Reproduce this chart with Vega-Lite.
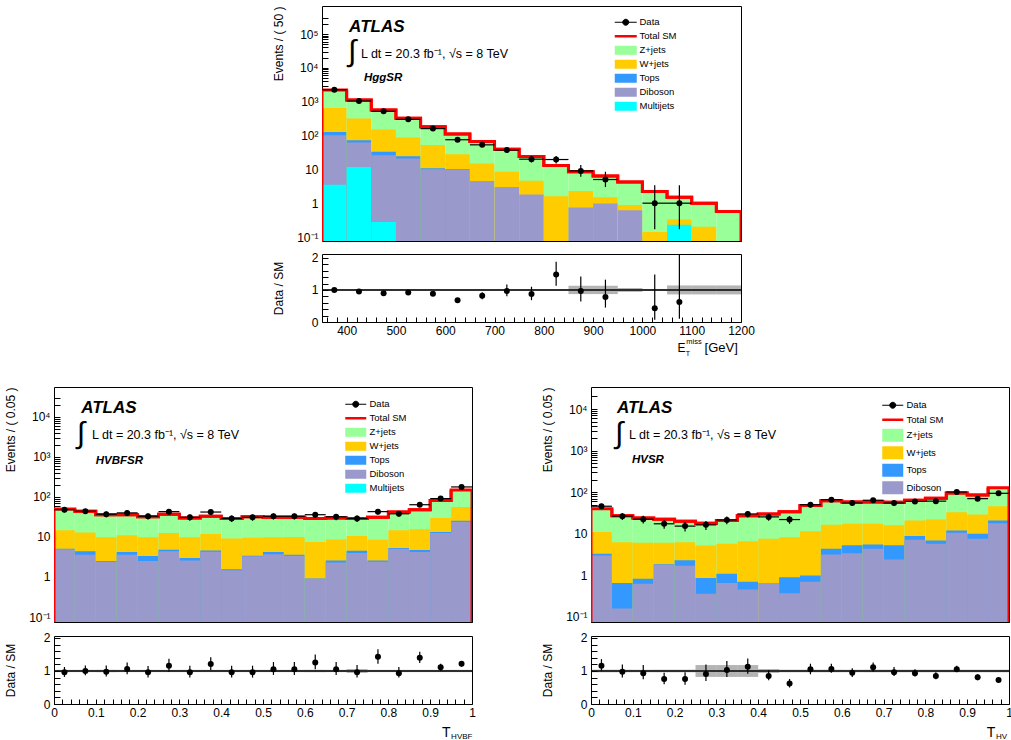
{
"$schema": "https://vega.github.io/schema/vega-lite/v6.json",
"background": "white",
"padding": {"left": 3, "top": 5, "right": 0, "bottom": 0},
"config": {
  "font": "Liberation Sans",
  "view": {"stroke": "black", "strokeWidth": 1},
  "axis": {"domain": false, "grid": false, "ticks": true, "tickColor": "black", "tickOpacity": 1, "tickWidth": 1, "labelColor": "black", "titleColor": "black", "labelFont": "Liberation Sans", "titleFont": "Liberation Sans", "labelFontSize": 12, "titleFontSize": 12, "titleFontWeight": "normal", "tickSize": 6, "labelPadding": 4, "zindex": 1, "labelOverlap": false, "labelFlush": false},
  "axisY": {"minExtent": 39, "maxExtent": 39, "titlePadding": 4},
  "legend": {"padding": 0, "labelFont": "Liberation Sans", "labelColor": "black", "labelFontSize": 9.5, "title": null}
},
"datasets": {
  "top": [
    {"lo":350,"hi":400,"c":375,"Z+jets":2200,"W+jets":650,"Tops":128,"Diboson":102,"Multijets":3.5,"tot":2200,"data":2250,"dlo":2203,"dhi":2297,"r":1.0,"rlo":0.98,"rhi":1.02,"ulo":0.975,"uhi":1.025},
    {"lo":400,"hi":450,"c":425,"Z+jets":1130,"W+jets":316,"Tops":72,"Diboson":62,"Multijets":11.8,"tot":1130,"data":1050,"dlo":1018,"dhi":1082,"r":0.95,"rlo":0.92,"rhi":0.98,"ulo":0.975,"uhi":1.025},
    {"lo":450,"hi":500,"c":475,"Z+jets":570,"W+jets":150,"Tops":33,"Diboson":26,"Multijets":0.28,"tot":570,"data":520,"dlo":497,"dhi":543,"r":0.9,"rlo":0.86,"rhi":0.94,"ulo":0.975,"uhi":1.025},
    {"lo":500,"hi":550,"c":525,"Z+jets":325,"W+jets":87,"Tops":24.5,"Diboson":21,"Multijets":null,"tot":325,"data":300,"dlo":283,"dhi":317,"r":0.92,"rlo":0.87,"rhi":0.97,"ulo":0.975,"uhi":1.025},
    {"lo":550,"hi":600,"c":575,"Z+jets":180,"W+jets":52,"Tops":10.7,"Diboson":10,"Multijets":null,"tot":180,"data":160,"dlo":147,"dhi":173,"r":0.88,"rlo":0.81,"rhi":0.95,"ulo":0.975,"uhi":1.025},
    {"lo":600,"hi":650,"c":625,"Z+jets":110,"W+jets":28,"Tops":10,"Diboson":9.7,"Multijets":null,"tot":110,"data":75,"dlo":66,"dhi":84,"r":0.68,"rlo":0.62,"rhi":0.75,"ulo":0.975,"uhi":1.025},
    {"lo":650,"hi":700,"c":675,"Z+jets":66,"W+jets":15,"Tops":null,"Diboson":4.5,"Multijets":null,"tot":66,"data":53,"dlo":46,"dhi":60,"r":0.82,"rlo":0.71,"rhi":0.93,"ulo":0.975,"uhi":1.025},
    {"lo":700,"hi":750,"c":725,"Z+jets":39,"W+jets":8.5,"Tops":null,"Diboson":3.0,"Multijets":null,"tot":39,"data":37,"dlo":31,"dhi":43,"r":0.97,"rlo":0.8,"rhi":1.17,"ulo":0.975,"uhi":1.025},
    {"lo":750,"hi":800,"c":775,"Z+jets":24,"W+jets":4.6,"Tops":null,"Diboson":1.8,"Multijets":null,"tot":24,"data":20,"dlo":16,"dhi":25,"r":0.87,"rlo":0.68,"rhi":1.1,"ulo":0.975,"uhi":1.025},
    {"lo":800,"hi":850,"c":825,"Z+jets":13,"W+jets":1.6,"Tops":null,"Diboson":null,"Multijets":null,"tot":13,"data":19.5,"dlo":15,"dhi":25,"r":1.48,"rlo":1.13,"rhi":1.88,"ulo":0.975,"uhi":1.025},
    {"lo":850,"hi":900,"c":875,"Z+jets":8.5,"W+jets":2.3,"Tops":null,"Diboson":0.74,"Multijets":null,"tot":8.5,"data":9,"dlo":6,"dhi":13.5,"r":0.97,"rlo":0.64,"rhi":1.42,"ulo":0.87,"uhi":1.13},
    {"lo":900,"hi":950,"c":925,"Z+jets":6.4,"W+jets":1.5,"Tops":null,"Diboson":0.98,"Multijets":null,"tot":6.4,"data":5,"dlo":3,"dhi":8.5,"r":0.78,"rlo":0.45,"rhi":1.32,"ulo":0.87,"uhi":1.13},
    {"lo":950,"hi":1000,"c":975,"Z+jets":4.2,"W+jets":0.89,"Tops":null,"Diboson":0.62,"Multijets":null,"tot":4.2,"data":null,"dlo":null,"dhi":null,"r":null,"rlo":null,"rhi":null,"ulo":0.94,"uhi":1.06},
    {"lo":1000,"hi":1050,"c":1025,"Z+jets":2.2,"W+jets":0.14,"Tops":null,"Diboson":null,"Multijets":null,"tot":2.2,"data":1,"dlo":0.17,"dhi":3.4,"r":0.43,"rlo":0.07,"rhi":1.48,"ulo":0.97,"uhi":1.03},
    {"lo":1050,"hi":1100,"c":1075,"Z+jets":1.5,"W+jets":0.33,"Tops":null,"Diboson":null,"Multijets":0.23,"tot":1.5,"data":1,"dlo":0.17,"dhi":3.4,"r":0.62,"rlo":0.1,"rhi":2.3,"ulo":0.86,"uhi":1.14},
    {"lo":1100,"hi":1150,"c":1125,"Z+jets":1.0,"W+jets":0.2,"Tops":null,"Diboson":null,"Multijets":null,"tot":1.0,"data":null,"dlo":null,"dhi":null,"r":null,"rlo":null,"rhi":null,"ulo":0.86,"uhi":1.14},
    {"lo":1150,"hi":1200,"c":1175,"Z+jets":0.57,"W+jets":null,"Tops":null,"Diboson":null,"Multijets":null,"tot":0.57,"data":null,"dlo":null,"dhi":null,"r":null,"rlo":null,"rhi":null,"ulo":0.86,"uhi":1.14}
  ],
  "hvbf": [
    {"lo":0.0,"hi":0.05,"c":0.025,"Z+jets":50,"W+jets":14.7,"Tops":5.1,"Diboson":4.9,"Multijets":null,"tot":50,"data":48,"dlo":41.1,"dhi":54.9,"r":0.96,"rlo":0.82,"rhi":1.12,"ulo":0.965,"uhi":1.035},
    {"lo":0.05,"hi":0.1,"c":0.075,"Z+jets":44,"W+jets":12.9,"Tops":4.4,"Diboson":3.6,"Multijets":null,"tot":44,"data":44,"dlo":37.4,"dhi":50.6,"r":1.0,"rlo":0.87,"rhi":1.17,"ulo":0.965,"uhi":1.035},
    {"lo":0.1,"hi":0.15,"c":0.125,"Z+jets":36,"W+jets":9.8,"Tops":2.5,"Diboson":2.4,"Multijets":null,"tot":36,"data":37,"dlo":30.9,"dhi":43.1,"r":0.98,"rlo":0.83,"rhi":1.17,"ulo":0.965,"uhi":1.035},
    {"lo":0.15,"hi":0.2,"c":0.175,"Z+jets":36,"W+jets":11,"Tops":4.2,"Diboson":3.6,"Multijets":null,"tot":36,"data":40,"dlo":33.7,"dhi":46.3,"r":1.06,"rlo":0.9,"rhi":1.26,"ulo":0.965,"uhi":1.035},
    {"lo":0.2,"hi":0.25,"c":0.225,"Z+jets":32,"W+jets":9.8,"Tops":3.35,"Diboson":2.5,"Multijets":null,"tot":32,"data":33,"dlo":27.3,"dhi":38.7,"r":0.96,"rlo":0.8,"rhi":1.15,"ulo":0.965,"uhi":1.035},
    {"lo":0.25,"hi":0.3,"c":0.275,"Z+jets":37,"W+jets":12.6,"Tops":4.8,"Diboson":4.4,"Multijets":null,"tot":37,"data":43,"dlo":36.4,"dhi":49.6,"r":1.16,"rlo":0.98,"rhi":1.37,"ulo":0.965,"uhi":1.035},
    {"lo":0.3,"hi":0.35,"c":0.325,"Z+jets":30,"W+jets":9.8,"Tops":3.0,"Diboson":2.6,"Multijets":null,"tot":30,"data":31,"dlo":25.4,"dhi":36.6,"r":0.96,"rlo":0.8,"rhi":1.16,"ulo":0.965,"uhi":1.035},
    {"lo":0.35,"hi":0.4,"c":0.375,"Z+jets":33,"W+jets":11.9,"Tops":4.6,"Diboson":4.3,"Multijets":null,"tot":33,"data":42,"dlo":35.5,"dhi":48.5,"r":1.21,"rlo":1.02,"rhi":1.42,"ulo":0.965,"uhi":1.035},
    {"lo":0.4,"hi":0.45,"c":0.425,"Z+jets":29,"W+jets":9.1,"Tops":1.55,"Diboson":1.47,"Multijets":null,"tot":29,"data":29,"dlo":23.6,"dhi":34.4,"r":0.96,"rlo":0.8,"rhi":1.16,"ulo":0.965,"uhi":1.035},
    {"lo":0.45,"hi":0.5,"c":0.475,"Z+jets":32,"W+jets":9.5,"Tops":3.4,"Diboson":3.3,"Multijets":null,"tot":32,"data":31,"dlo":25.4,"dhi":36.6,"r":0.96,"rlo":0.8,"rhi":1.16,"ulo":0.965,"uhi":1.035},
    {"lo":0.5,"hi":0.55,"c":0.525,"Z+jets":31,"W+jets":9.8,"Tops":4.2,"Diboson":3.7,"Multijets":null,"tot":31,"data":33,"dlo":27.3,"dhi":38.7,"r":1.05,"rlo":0.88,"rhi":1.27,"ulo":0.965,"uhi":1.035},
    {"lo":0.55,"hi":0.6,"c":0.575,"Z+jets":31,"W+jets":10,"Tops":3.6,"Diboson":3.4,"Multijets":null,"tot":31,"data":33,"dlo":27.3,"dhi":38.7,"r":1.05,"rlo":0.88,"rhi":1.27,"ulo":0.965,"uhi":1.035},
    {"lo":0.6,"hi":0.65,"c":0.625,"Z+jets":29,"W+jets":7.5,"Tops":0.92,"Diboson":0.9,"Multijets":null,"tot":29,"data":36,"dlo":30,"dhi":42,"r":1.26,"rlo":1.05,"rhi":1.5,"ulo":0.965,"uhi":1.035},
    {"lo":0.65,"hi":0.7,"c":0.675,"Z+jets":30,"W+jets":8.7,"Tops":2.6,"Diboson":2.3,"Multijets":null,"tot":30,"data":32,"dlo":26.3,"dhi":37.7,"r":1.05,"rlo":0.88,"rhi":1.27,"ulo":0.965,"uhi":1.035},
    {"lo":0.7,"hi":0.75,"c":0.725,"Z+jets":29,"W+jets":10.6,"Tops":4.5,"Diboson":4.0,"Multijets":null,"tot":29,"data":29,"dlo":23.6,"dhi":34.4,"r":0.96,"rlo":0.8,"rhi":1.18,"ulo":0.94,"uhi":1.06},
    {"lo":0.75,"hi":0.8,"c":0.775,"Z+jets":31,"W+jets":8.5,"Tops":2.6,"Diboson":2.4,"Multijets":null,"tot":31,"data":43,"dlo":36.4,"dhi":49.6,"r":1.43,"rlo":1.22,"rhi":1.66,"ulo":0.965,"uhi":1.035},
    {"lo":0.8,"hi":0.85,"c":0.825,"Z+jets":42,"W+jets":14.7,"Tops":5.3,"Diboson":5.1,"Multijets":null,"tot":42,"data":38,"dlo":31.8,"dhi":44.2,"r":0.93,"rlo":0.8,"rhi":1.12,"ulo":0.965,"uhi":1.035},
    {"lo":0.85,"hi":0.9,"c":0.875,"Z+jets":48,"W+jets":15.5,"Tops":4.7,"Diboson":4.2,"Multijets":null,"tot":48,"data":64,"dlo":56,"dhi":72,"r":1.4,"rlo":1.24,"rhi":1.58,"ulo":0.965,"uhi":1.035},
    {"lo":0.9,"hi":0.95,"c":0.925,"Z+jets":81,"W+jets":30,"Tops":13.3,"Diboson":12.6,"Multijets":null,"tot":81,"data":91,"dlo":81.5,"dhi":100.5,"r":1.11,"rlo":1.0,"rhi":1.22,"ulo":0.965,"uhi":1.035},
    {"lo":0.95,"hi":1.0,"c":0.975,"Z+jets":150,"W+jets":56,"Tops":25.6,"Diboson":24,"Multijets":null,"tot":150,"data":178,"dlo":164.7,"dhi":191.3,"r":1.22,"rlo":1.13,"rhi":1.3,"ulo":0.965,"uhi":1.035}
  ],
  "hv": [
    {"lo":0.0,"hi":0.05,"c":0.025,"Z+jets":40,"W+jets":11,"Tops":3.3,"Diboson":3.0,"tot":40,"data":46,"dlo":39.2,"dhi":52.8,"r":1.16,"rlo":1.0,"rhi":1.36,"ulo":0.96,"uhi":1.04},
    {"lo":0.05,"hi":0.1,"c":0.075,"Z+jets":27,"W+jets":6.3,"Tops":0.66,"Diboson":0.16,"tot":27,"data":26.5,"dlo":21.4,"dhi":31.6,"r":0.98,"rlo":0.8,"rhi":1.2,"ulo":0.96,"uhi":1.04},
    {"lo":0.1,"hi":0.15,"c":0.125,"Z+jets":24,"W+jets":6.1,"Tops":0.83,"Diboson":0.63,"tot":24,"data":22.5,"dlo":17.8,"dhi":27.2,"r":0.93,"rlo":0.75,"rhi":1.18,"ulo":0.96,"uhi":1.04},
    {"lo":0.15,"hi":0.2,"c":0.175,"Z+jets":22.5,"W+jets":6.1,"Tops":1.85,"Diboson":1.8,"tot":22.5,"data":17.4,"dlo":13.2,"dhi":21.6,"r":0.76,"rlo":0.6,"rhi":0.95,"ulo":0.96,"uhi":1.04},
    {"lo":0.2,"hi":0.25,"c":0.225,"Z+jets":20,"W+jets":6.3,"Tops":2.3,"Diboson":1.7,"tot":20,"data":15.3,"dlo":11.4,"dhi":19.2,"r":0.76,"rlo":0.58,"rhi":0.96,"ulo":0.96,"uhi":1.04},
    {"lo":0.25,"hi":0.3,"c":0.275,"Z+jets":18,"W+jets":5.2,"Tops":0.87,"Diboson":0.36,"tot":18,"data":16.4,"dlo":12.4,"dhi":20.4,"r":0.91,"rlo":0.7,"rhi":1.2,"ulo":0.82,"uhi":1.18},
    {"lo":0.3,"hi":0.35,"c":0.325,"Z+jets":21,"W+jets":5.8,"Tops":1.1,"Diboson":0.66,"tot":21,"data":21.5,"dlo":16.9,"dhi":26.1,"r":1.03,"rlo":0.82,"rhi":1.3,"ulo":0.82,"uhi":1.18},
    {"lo":0.35,"hi":0.4,"c":0.375,"Z+jets":27,"W+jets":6.6,"Tops":0.7,"Diboson":0.46,"tot":27,"data":30,"dlo":24.5,"dhi":35.5,"r":1.13,"rlo":0.92,"rhi":1.38,"ulo":0.82,"uhi":1.18},
    {"lo":0.4,"hi":0.45,"c":0.425,"Z+jets":30,"W+jets":7.6,"Tops":null,"Diboson":0.66,"tot":30,"data":25.5,"dlo":20.5,"dhi":30.5,"r":0.85,"rlo":0.72,"rhi":1.02,"ulo":0.94,"uhi":1.06},
    {"lo":0.45,"hi":0.5,"c":0.475,"Z+jets":34,"W+jets":8.3,"Tops":0.9,"Diboson":0.37,"tot":34,"data":22,"dlo":17.3,"dhi":26.7,"r":0.62,"rlo":0.5,"rhi":0.76,"ulo":0.96,"uhi":1.04},
    {"lo":0.5,"hi":0.55,"c":0.525,"Z+jets":48,"W+jets":11.5,"Tops":1.0,"Diboson":0.7,"tot":48,"data":50,"dlo":42.9,"dhi":57.1,"r":1.05,"rlo":0.9,"rhi":1.22,"ulo":0.96,"uhi":1.04},
    {"lo":0.55,"hi":0.6,"c":0.575,"Z+jets":62,"W+jets":16.5,"Tops":4.4,"Diboson":3.2,"tot":62,"data":66,"dlo":57.9,"dhi":74.1,"r":1.06,"rlo":0.95,"rhi":1.22,"ulo":0.96,"uhi":1.04},
    {"lo":0.6,"hi":0.65,"c":0.625,"Z+jets":58,"W+jets":17.5,"Tops":5.3,"Diboson":3.4,"tot":58,"data":55,"dlo":47.6,"dhi":62.4,"r":0.95,"rlo":0.82,"rhi":1.08,"ulo":0.96,"uhi":1.04},
    {"lo":0.65,"hi":0.7,"c":0.675,"Z+jets":58,"W+jets":17.5,"Tops":5.5,"Diboson":4.4,"tot":58,"data":64,"dlo":56,"dhi":72,"r":1.11,"rlo":0.98,"rhi":1.26,"ulo":0.96,"uhi":1.04},
    {"lo":0.7,"hi":0.75,"c":0.725,"Z+jets":57,"W+jets":16,"Tops":5.3,"Diboson":2.4,"tot":57,"data":55,"dlo":47.6,"dhi":62.4,"r":0.96,"rlo":0.85,"rhi":1.12,"ulo":0.96,"uhi":1.04},
    {"lo":0.75,"hi":0.8,"c":0.775,"Z+jets":64,"W+jets":21,"Tops":8.8,"Diboson":7.2,"tot":64,"data":60,"dlo":52.3,"dhi":67.7,"r":0.93,"rlo":0.83,"rhi":1.05,"ulo":0.96,"uhi":1.04},
    {"lo":0.8,"hi":0.85,"c":0.825,"Z+jets":72,"W+jets":22,"Tops":6.9,"Diboson":5.8,"tot":72,"data":61,"dlo":53.2,"dhi":68.8,"r":0.85,"rlo":0.75,"rhi":0.96,"ulo":0.96,"uhi":1.04},
    {"lo":0.85,"hi":0.9,"c":0.875,"Z+jets":96,"W+jets":33,"Tops":12,"Diboson":10.6,"tot":96,"data":101,"dlo":91,"dhi":111,"r":1.05,"rlo":0.97,"rhi":1.16,"ulo":0.96,"uhi":1.04},
    {"lo":0.9,"hi":0.95,"c":0.925,"Z+jets":86,"W+jets":29,"Tops":10,"Diboson":7.6,"tot":86,"data":70,"dlo":61.6,"dhi":78.4,"r":0.81,"rlo":0.72,"rhi":0.9,"ulo":0.96,"uhi":1.04},
    {"lo":0.95,"hi":1.0,"c":0.975,"Z+jets":128,"W+jets":46,"Tops":21,"Diboson":18,"tot":128,"data":94,"dlo":84.3,"dhi":103.7,"r":0.73,"rlo":0.66,"rhi":0.8,"ulo":0.96,"uhi":1.04}
  ]
},
"resolve": {"scale": {"color": "independent"}, "legend": {"color": "independent"}},
"spacing": 28,
"vconcat": [
 {"spacing": 20, "resolve": {"scale": {"color": "independent"}, "legend": {"color": "independent"}}, "hconcat": [
  {"width": 197, "height": 1, "view": {"stroke": null}, "data": {"values": [{}]}, "mark": {"type": "text", "text": "", "fontSize": 1}, "encoding": {}},
  {"spacing": 7, "resolve": {"scale": {"color": "independent"}, "legend": {"color": "independent"}}, "vconcat": [
   {"width": 419, "height": 235, "data": {"name": "top"},
    "layer": [
     {"transform": [{"fold": ["Z+jets","W+jets","Tops","Diboson","Multijets"], "as": ["comp","v"]}],
      "mark": {"type": "bar", "clip": true},
      "encoding": {
        "x": {"field": "lo", "type": "quantitative", "scale": {"domain": [350,1200], "nice": false, "zero": false},
              "axis": {"labels": false, "title": null, "tickCount": 1000, "offset": -5, "tickSize": 5, "values": [360,380,400,420,440,460,480,500,520,540,560,580,600,620,640,660,680,700,720,740,760,780,800,820,840,860,880,900,920,940,960,980,1000,1020,1040,1060,1080,1100,1120,1140,1160,1180,1200]}},
        "x2": {"field": "hi"},
        "y": {"field": "v", "type": "quantitative", "scale": {"type": "log", "domain": [0.0762, 673000], "nice": false},
              "axis": {"title": "Events / ( 50 )", "titleAnchor": "end", "tickCount": 1000, "offset": -6, "tickSize": 6, "labelPadding": 4,
                       "values": [0.1,0.2,0.3,0.4,0.5,0.6,0.7,0.8,0.9,1,2,3,4,5,6,7,8,9,10,20,30,40,50,60,70,80,90,100,200,300,400,500,600,700,800,900,1000,2000,3000,4000,5000,6000,7000,8000,9000,10000,20000,30000,40000,50000,60000,70000,80000,90000,100000,200000,300000],
                       "labelExpr": "datum.value == 0.1 ? '10⁻¹' : datum.value == 1 ? '1' : datum.value == 10 ? '10' : datum.value == 100 ? '10²' : datum.value == 1000 ? '10³' : datum.value == 10000 ? '10⁴' : datum.value == 100000 ? '10⁵' : ''"}},
        "y2": {"datum": 0.01},
        "color": {"field": "comp", "type": "nominal",
                  "scale": {"domain": ["Data","Total SM","Z+jets","W+jets","Tops","Diboson","Multijets"], "range": ["#000000","#ff0000","#99ff99","#ffcc00","#3399ff","#9999cc","#00ffff"]},
                  "legend": {"orient": "none", "legendX": 299, "legendY": 11.5, "symbolSize": 100, "rowPadding": 3, "labelOffset": 9, "symbolType": "square",
                             "encode": {"symbols": {"update": {
                               "shape": {"signal": "datum.value === 'Data' ? 'M-2.2,0H2.2M0.6,0A0.6,0.6 0 1,1 -0.6,0A0.6,0.6 0 1,1 0.6,0Z' : datum.value === 'Total SM' ? 'M-2.2,0H2.2' : 'M-2.2,-0.9H2.2V0.9H-2.2Z'"},
                               "stroke": {"signal": "datum.value === 'Data' ? '#000000' : datum.value === 'Total SM' ? '#ff0000' : null"},
                               "strokeWidth": {"signal": "datum.value === 'Total SM' ? 2.5 : 1"},
                               "fillOpacity": {"value": 1}, "opacity": {"value": 1}}}}}}
      }},
     {"mark": {"type": "line", "interpolate": "step-after", "color": "#ff0000", "strokeWidth": 3, "clip": true},
      "encoding": {"x": {"field": "lo", "type": "quantitative"}, "y": {"field": "tot", "type": "quantitative"}}},
     {"mark": {"type": "line", "interpolate": "step-before", "color": "#ff0000", "strokeWidth": 3, "clip": true},
      "encoding": {"x": {"field": "hi", "type": "quantitative"}, "y": {"field": "tot", "type": "quantitative"}}},
     {"data": {"values": [{}]}, "mark": {"type": "rule", "color": "#ff0000", "strokeWidth": 3, "clip": true},
      "encoding": {"x": {"datum": 350}, "y": {"datum": 0.01}, "y2": {"datum": 2200}}},
     {"data": {"values": [{}]}, "mark": {"type": "rule", "color": "#ff0000", "strokeWidth": 3, "clip": true},
      "encoding": {"x": {"datum": 1200}, "y": {"datum": 0.01}, "y2": {"datum": 0.57}}},
     {"mark": {"type": "rule", "color": "black", "strokeWidth": 1.2, "clip": true},
      "encoding": {"x": {"field": "lo", "type": "quantitative"}, "x2": {"field": "hi"}, "y": {"field": "data", "type": "quantitative"}}},
     {"mark": {"type": "rule", "color": "black", "strokeWidth": 1.2, "clip": true},
      "encoding": {"x": {"field": "c", "type": "quantitative"}, "y": {"field": "dlo", "type": "quantitative"}, "y2": {"field": "dhi"}}},
     {"mark": {"type": "point", "filled": true, "color": "black", "size": 36, "opacity": 1},
      "encoding": {"x": {"field": "c", "type": "quantitative"}, "y": {"field": "data", "type": "quantitative"}}},
     {"data": {"values": [{}]}, "mark": {"type": "text", "fontWeight": "bold", "fontStyle": "italic", "fontSize": 17, "align": "left", "baseline": "middle"},
      "encoding": {"x": {"datum": 405}, "y": {"datum": 160000}, "text": {"value": "ATLAS"}}},
     {"data": {"values": [{}]}, "mark": {"type": "text", "fontSize": 30, "align": "center", "baseline": "middle"},
      "encoding": {"x": {"datum": 411}, "y": {"datum": 29000}, "text": {"value": "∫"}}},
     {"data": {"values": [{}]}, "mark": {"type": "text", "fontSize": 12.5, "align": "left", "baseline": "middle"},
      "encoding": {"x": {"datum": 429}, "y": {"datum": 26000}, "text": {"value": "L dt = 20.3 fb⁻¹, √s = 8 TeV"}}},
     {"data": {"values": [{}]}, "mark": {"type": "text", "fontWeight": "bold", "fontStyle": "italic", "fontSize": 11.5, "align": "left", "baseline": "middle"},
      "encoding": {"x": {"datum": 435}, "y": {"datum": 5000}, "text": {"value": "HggSR"}}}
    ]},
   {"width": 419, "height": 68, "data": {"name": "top"},
    "layer": [
     {"mark": {"type": "rect", "fill": "#444444", "opacity": 0.4},
      "encoding": {
        "x": {"field": "lo", "type": "quantitative", "scale": {"domain": [350,1200], "nice": false, "zero": false},
              "axis": {"title": null, "tickCount": 1000, "offset": -5, "tickSize": 5, "labelPadding": 3, "values": [360,380,400,420,440,460,480,500,520,540,560,580,600,620,640,660,680,700,720,740,760,780,800,820,840,860,880,900,920,940,960,980,1000,1020,1040,1060,1080,1100,1120,1140,1160,1180,1200],
                       "labelExpr": "datum.value % 100 == 0 ? format(datum.value, 'd') : ''"}},
        "x2": {"field": "hi"},
        "y": {"field": "ulo", "type": "quantitative", "scale": {"domain": [0, 2.12], "nice": false, "zero": false},
              "axis": {"title": "Data / SM", "tickCount": 1000, "offset": -6, "tickSize": 6, "labelPadding": 4, "values": [0,0.2,0.4,0.6,0.8,1,1.2,1.4,1.6,1.8,2],
                       "labelExpr": "datum.value == 0 || datum.value == 1 || datum.value == 2 ? format(datum.value, 'd') : ''"}},
        "y2": {"field": "uhi"}
      }},
     {"data": {"values": [{}]}, "mark": {"type": "rule", "color": "black", "strokeWidth": 1.5}, "encoding": {"y": {"datum": 1}}},
     {"mark": {"type": "rule", "color": "black", "strokeWidth": 1.2, "clip": true},
      "encoding": {"x": {"field": "c", "type": "quantitative"}, "y": {"field": "rlo", "type": "quantitative"}, "y2": {"field": "rhi"}}},
     {"mark": {"type": "point", "filled": true, "color": "black", "size": 36, "opacity": 1},
      "encoding": {"x": {"field": "c", "type": "quantitative"}, "y": {"field": "r", "type": "quantitative"}}},
     {"data": {"values": [{}]}, "mark": {"type": "text", "fontSize": 12, "align": "left", "baseline": "alphabetic"},
      "encoding": {"x": {"datum": 1071}, "y": {"datum": -0.94}, "text": {"value": "E"}}},
     {"data": {"values": [{}]}, "mark": {"type": "text", "fontSize": 7.5, "align": "left", "baseline": "alphabetic"},
      "encoding": {"x": {"datum": 1089}, "y": {"datum": -0.7}, "text": {"value": "miss"}}},
     {"data": {"values": [{}]}, "mark": {"type": "text", "fontSize": 7, "align": "left", "baseline": "alphabetic"},
      "encoding": {"x": {"datum": 1088}, "y": {"datum": -1.06}, "text": {"value": "T"}}},
     {"data": {"values": [{}]}, "mark": {"type": "text", "fontSize": 13, "align": "left", "baseline": "alphabetic"},
      "encoding": {"x": {"datum": 1126}, "y": {"datum": -0.94}, "text": {"value": "[GeV]"}}}
    ]}
  ]}
 ]},
 {"spacing": 64, "resolve": {"scale": {"color": "independent"}, "legend": {"color": "independent"}}, "hconcat": [
  {"spacing": 7, "resolve": {"scale": {"color": "independent"}, "legend": {"color": "independent"}}, "vconcat": [
   {"width": 418, "height": 235, "data": {"name": "hvbf"},
    "layer": [
     {"transform": [{"fold": ["Z+jets","W+jets","Tops","Diboson","Multijets"], "as": ["comp","v"]}],
      "mark": {"type": "bar", "clip": true},
      "encoding": {
        "x": {"field": "lo", "type": "quantitative", "scale": {"domain": [0,1], "nice": false, "zero": false},
              "axis": {"labels": false, "title": null, "tickCount": 1000, "offset": -5, "tickSize": 5, "values": [0,0.02,0.04,0.06,0.08,0.1,0.12,0.14,0.16,0.18,0.2,0.22,0.24,0.26,0.28,0.3,0.32,0.34,0.36,0.38,0.4,0.42,0.44,0.46,0.48,0.5,0.52,0.54,0.56,0.58,0.6,0.62,0.64,0.66,0.68,0.7,0.72,0.74,0.76,0.78,0.8,0.82,0.84,0.86,0.88,0.9,0.92,0.94,0.96,0.98,1]}},
        "x2": {"field": "hi"},
        "y": {"field": "v", "type": "quantitative", "scale": {"type": "log", "domain": [0.075, 56000], "nice": false},
              "axis": {"title": "Events / ( 0.05 )", "titleAnchor": "end", "tickCount": 1000, "offset": -6, "tickSize": 6, "labelPadding": 4,
                       "values": [0.1,0.2,0.3,0.4,0.5,0.6,0.7,0.8,0.9,1,2,3,4,5,6,7,8,9,10,20,30,40,50,60,70,80,90,100,200,300,400,500,600,700,800,900,1000,2000,3000,4000,5000,6000,7000,8000,9000,10000,20000,30000],
                       "labelExpr": "datum.value == 0.1 ? '10⁻¹' : datum.value == 1 ? '1' : datum.value == 10 ? '10' : datum.value == 100 ? '10²' : datum.value == 1000 ? '10³' : datum.value == 10000 ? '10⁴' : ''"}},
        "y2": {"datum": 0.01},
        "color": {"field": "comp", "type": "nominal",
                  "scale": {"domain": ["Data","Total SM","Z+jets","W+jets","Tops","Diboson","Multijets"], "range": ["#000000","#ff0000","#99ff99","#ffcc00","#3399ff","#9999cc","#00ffff"]},
                  "legend": {"orient": "none", "legendX": 297, "legendY": 12.5, "symbolSize": 100, "rowPadding": 3, "labelOffset": 9, "symbolType": "square",
                             "encode": {"symbols": {"update": {
                               "shape": {"signal": "datum.value === 'Data' ? 'M-2.1,0H2.1M0.6,0A0.6,0.6 0 1,1 -0.6,0A0.6,0.6 0 1,1 0.6,0Z' : datum.value === 'Total SM' ? 'M-2.1,0H2.1' : 'M-2.1,-0.9H2.1V0.9H-2.1Z'"},
                               "stroke": {"signal": "datum.value === 'Data' ? '#000000' : datum.value === 'Total SM' ? '#ff0000' : null"},
                               "strokeWidth": {"signal": "datum.value === 'Total SM' ? 2.5 : 1"},
                               "fillOpacity": {"value": 1}, "opacity": {"value": 1}}}}}}
      }},
     {"mark": {"type": "line", "interpolate": "step-after", "color": "#ff0000", "strokeWidth": 3, "clip": true},
      "encoding": {"x": {"field": "lo", "type": "quantitative"}, "y": {"field": "tot", "type": "quantitative"}}},
     {"mark": {"type": "line", "interpolate": "step-before", "color": "#ff0000", "strokeWidth": 3, "clip": true},
      "encoding": {"x": {"field": "hi", "type": "quantitative"}, "y": {"field": "tot", "type": "quantitative"}}},
     {"data": {"values": [{}]}, "mark": {"type": "rule", "color": "#ff0000", "strokeWidth": 3, "clip": true},
      "encoding": {"x": {"datum": 0}, "y": {"datum": 0.01}, "y2": {"datum": 50}}},
     {"data": {"values": [{}]}, "mark": {"type": "rule", "color": "#ff0000", "strokeWidth": 3, "clip": true},
      "encoding": {"x": {"datum": 1}, "y": {"datum": 0.01}, "y2": {"datum": 150}}},
     {"mark": {"type": "rule", "color": "black", "strokeWidth": 1.2, "clip": true},
      "encoding": {"x": {"field": "lo", "type": "quantitative"}, "x2": {"field": "hi"}, "y": {"field": "data", "type": "quantitative"}}},
     {"mark": {"type": "rule", "color": "black", "strokeWidth": 1.2, "clip": true},
      "encoding": {"x": {"field": "c", "type": "quantitative"}, "y": {"field": "dlo", "type": "quantitative"}, "y2": {"field": "dhi"}}},
     {"mark": {"type": "point", "filled": true, "color": "black", "size": 36, "opacity": 1},
      "encoding": {"x": {"field": "c", "type": "quantitative"}, "y": {"field": "data", "type": "quantitative"}}},
     {"data": {"values": [{}]}, "mark": {"type": "text", "fontWeight": "bold", "fontStyle": "italic", "fontSize": 17, "align": "left", "baseline": "middle"},
      "encoding": {"x": {"datum": 0.065}, "y": {"datum": 16700}, "text": {"value": "ATLAS"}}},
     {"data": {"values": [{}]}, "mark": {"type": "text", "fontSize": 30, "align": "center", "baseline": "middle"},
      "encoding": {"x": {"datum": 0.064}, "y": {"datum": 3760}, "text": {"value": "∫"}}},
     {"data": {"values": [{}]}, "mark": {"type": "text", "fontSize": 12.5, "align": "left", "baseline": "middle"},
      "encoding": {"x": {"datum": 0.091}, "y": {"datum": 3550}, "text": {"value": "L dt = 20.3 fb⁻¹, √s = 8 TeV"}}},
     {"data": {"values": [{}]}, "mark": {"type": "text", "fontWeight": "bold", "fontStyle": "italic", "fontSize": 11.5, "align": "left", "baseline": "middle"},
      "encoding": {"x": {"datum": 0.1}, "y": {"datum": 794}, "text": {"value": "HVBFSR"}}}
    ]},
   {"width": 418, "height": 68, "data": {"name": "hvbf"},
    "layer": [
     {"mark": {"type": "rect", "fill": "#444444", "opacity": 0.4},
      "encoding": {
        "x": {"field": "lo", "type": "quantitative", "scale": {"domain": [0,1], "nice": false, "zero": false},
              "axis": {"title": null, "tickCount": 1000, "offset": -5, "tickSize": 5, "labelPadding": 3, "values": [0,0.02,0.04,0.06,0.08,0.1,0.12,0.14,0.16,0.18,0.2,0.22,0.24,0.26,0.28,0.3,0.32,0.34,0.36,0.38,0.4,0.42,0.44,0.46,0.48,0.5,0.52,0.54,0.56,0.58,0.6,0.62,0.64,0.66,0.68,0.7,0.72,0.74,0.76,0.78,0.8,0.82,0.84,0.86,0.88,0.9,0.92,0.94,0.96,0.98,1],
                       "labelExpr": "round(datum.value*100) % 10 == 0 ? format(datum.value, '~g') : ''"}},
        "x2": {"field": "hi"},
        "y": {"field": "ulo", "type": "quantitative", "scale": {"domain": [0, 2.06], "nice": false, "zero": false},
              "axis": {"title": "Data / SM", "tickCount": 1000, "offset": -6, "tickSize": 6, "labelPadding": 4, "values": [0,0.2,0.4,0.6,0.8,1,1.2,1.4,1.6,1.8,2],
                       "labelExpr": "datum.value == 0 || datum.value == 1 || datum.value == 2 ? format(datum.value, 'd') : ''"}},
        "y2": {"field": "uhi"}
      }},
     {"data": {"values": [{}]}, "mark": {"type": "rule", "color": "black", "strokeWidth": 1.5}, "encoding": {"y": {"datum": 1}}},
     {"mark": {"type": "rule", "color": "black", "strokeWidth": 1.2, "clip": true},
      "encoding": {"x": {"field": "c", "type": "quantitative"}, "y": {"field": "rlo", "type": "quantitative"}, "y2": {"field": "rhi"}}},
     {"mark": {"type": "point", "filled": true, "color": "black", "size": 36, "opacity": 1},
      "encoding": {"x": {"field": "c", "type": "quantitative"}, "y": {"field": "r", "type": "quantitative"}}},
     {"data": {"values": [{}]}, "mark": {"type": "text", "fontSize": 14, "align": "left", "baseline": "alphabetic"},
      "encoding": {"x": {"datum": 0.928}, "y": {"datum": -1.0}, "text": {"value": "T"}}},
     {"data": {"values": [{}]}, "mark": {"type": "text", "fontSize": 8, "align": "left", "baseline": "alphabetic"},
      "encoding": {"x": {"datum": 0.95}, "y": {"datum": -1.05}, "text": {"value": "HVBF"}}}
    ]}
  ]},
  {"spacing": 7, "resolve": {"scale": {"color": "independent"}, "legend": {"color": "independent"}}, "vconcat": [
   {"width": 418, "height": 235, "data": {"name": "hv"},
    "layer": [
     {"transform": [{"fold": ["Z+jets","W+jets","Tops","Diboson"], "as": ["comp","v"]}],
      "mark": {"type": "bar", "clip": true},
      "encoding": {
        "x": {"field": "lo", "type": "quantitative", "scale": {"domain": [0,1], "nice": false, "zero": false},
              "axis": {"labels": false, "title": null, "tickCount": 1000, "offset": -5, "tickSize": 5, "values": [0,0.02,0.04,0.06,0.08,0.1,0.12,0.14,0.16,0.18,0.2,0.22,0.24,0.26,0.28,0.3,0.32,0.34,0.36,0.38,0.4,0.42,0.44,0.46,0.48,0.5,0.52,0.54,0.56,0.58,0.6,0.62,0.64,0.66,0.68,0.7,0.72,0.74,0.76,0.78,0.8,0.82,0.84,0.86,0.88,0.9,0.92,0.94,0.96,0.98,1]}},
        "x2": {"field": "hi"},
        "y": {"field": "v", "type": "quantitative", "scale": {"type": "log", "domain": [0.0758, 33800], "nice": false},
              "axis": {"title": "Events / ( 0.05 )", "titleAnchor": "end", "tickCount": 1000, "offset": -6, "tickSize": 6, "labelPadding": 4,
                       "values": [0.1,0.2,0.3,0.4,0.5,0.6,0.7,0.8,0.9,1,2,3,4,5,6,7,8,9,10,20,30,40,50,60,70,80,90,100,200,300,400,500,600,700,800,900,1000,2000,3000,4000,5000,6000,7000,8000,9000,10000,20000],
                       "labelExpr": "datum.value == 0.1 ? '10⁻¹' : datum.value == 1 ? '1' : datum.value == 10 ? '10' : datum.value == 100 ? '10²' : datum.value == 1000 ? '10³' : datum.value == 10000 ? '10⁴' : ''"}},
        "y2": {"datum": 0.01},
        "color": {"field": "comp", "type": "nominal",
                  "scale": {"domain": ["Data","Total SM","Z+jets","W+jets","Tops","Diboson"], "range": ["#000000","#ff0000","#99ff99","#ffcc00","#3399ff","#9999cc"]},
                  "legend": {"orient": "none", "legendX": 297, "legendY": 13.5, "symbolSize": 100, "rowPadding": 3.5, "labelOffset": 9, "symbolType": "square",
                             "encode": {"symbols": {"update": {
                               "shape": {"signal": "datum.value === 'Data' ? 'M-2.1,0H2.1M0.6,0A0.6,0.6 0 1,1 -0.6,0A0.6,0.6 0 1,1 0.6,0Z' : datum.value === 'Total SM' ? 'M-2.1,0H2.1' : 'M-2.1,-1.3H2.1V1.3H-2.1Z'"},
                               "stroke": {"signal": "datum.value === 'Data' ? '#000000' : datum.value === 'Total SM' ? '#ff0000' : null"},
                               "strokeWidth": {"signal": "datum.value === 'Total SM' ? 2.5 : 1"},
                               "fillOpacity": {"value": 1}, "opacity": {"value": 1}}}}}}
      }},
     {"mark": {"type": "line", "interpolate": "step-after", "color": "#ff0000", "strokeWidth": 3, "clip": true},
      "encoding": {"x": {"field": "lo", "type": "quantitative"}, "y": {"field": "tot", "type": "quantitative"}}},
     {"mark": {"type": "line", "interpolate": "step-before", "color": "#ff0000", "strokeWidth": 3, "clip": true},
      "encoding": {"x": {"field": "hi", "type": "quantitative"}, "y": {"field": "tot", "type": "quantitative"}}},
     {"data": {"values": [{}]}, "mark": {"type": "rule", "color": "#ff0000", "strokeWidth": 3, "clip": true},
      "encoding": {"x": {"datum": 0}, "y": {"datum": 0.01}, "y2": {"datum": 40}}},
     {"data": {"values": [{}]}, "mark": {"type": "rule", "color": "#ff0000", "strokeWidth": 3, "clip": true},
      "encoding": {"x": {"datum": 1}, "y": {"datum": 0.01}, "y2": {"datum": 128}}},
     {"mark": {"type": "rule", "color": "black", "strokeWidth": 1.2, "clip": true},
      "encoding": {"x": {"field": "lo", "type": "quantitative"}, "x2": {"field": "hi"}, "y": {"field": "data", "type": "quantitative"}}},
     {"mark": {"type": "rule", "color": "black", "strokeWidth": 1.2, "clip": true},
      "encoding": {"x": {"field": "c", "type": "quantitative"}, "y": {"field": "dlo", "type": "quantitative"}, "y2": {"field": "dhi"}}},
     {"mark": {"type": "point", "filled": true, "color": "black", "size": 36, "opacity": 1},
      "encoding": {"x": {"field": "c", "type": "quantitative"}, "y": {"field": "data", "type": "quantitative"}}},
     {"data": {"values": [{}]}, "mark": {"type": "text", "fontWeight": "bold", "fontStyle": "italic", "fontSize": 17, "align": "left", "baseline": "middle"},
      "encoding": {"x": {"datum": 0.062}, "y": {"datum": 10500}, "text": {"value": "ATLAS"}}},
     {"data": {"values": [{}]}, "mark": {"type": "text", "fontSize": 30, "align": "center", "baseline": "middle"},
      "encoding": {"x": {"datum": 0.067}, "y": {"datum": 2500}, "text": {"value": "∫"}}},
     {"data": {"values": [{}]}, "mark": {"type": "text", "fontSize": 12.5, "align": "left", "baseline": "middle"},
      "encoding": {"x": {"datum": 0.091}, "y": {"datum": 2370}, "text": {"value": "L dt = 20.3 fb⁻¹, √s = 8 TeV"}}},
     {"data": {"values": [{}]}, "mark": {"type": "text", "fontWeight": "bold", "fontStyle": "italic", "fontSize": 11.5, "align": "left", "baseline": "middle"},
      "encoding": {"x": {"datum": 0.098}, "y": {"datum": 590}, "text": {"value": "HVSR"}}}
    ]},
   {"width": 418, "height": 68, "data": {"name": "hv"},
    "layer": [
     {"mark": {"type": "rect", "fill": "#444444", "opacity": 0.4},
      "encoding": {
        "x": {"field": "lo", "type": "quantitative", "scale": {"domain": [0,1], "nice": false, "zero": false},
              "axis": {"title": null, "tickCount": 1000, "offset": -5, "tickSize": 5, "labelPadding": 3, "values": [0,0.02,0.04,0.06,0.08,0.1,0.12,0.14,0.16,0.18,0.2,0.22,0.24,0.26,0.28,0.3,0.32,0.34,0.36,0.38,0.4,0.42,0.44,0.46,0.48,0.5,0.52,0.54,0.56,0.58,0.6,0.62,0.64,0.66,0.68,0.7,0.72,0.74,0.76,0.78,0.8,0.82,0.84,0.86,0.88,0.9,0.92,0.94,0.96,0.98,1],
                       "labelExpr": "round(datum.value*100) % 10 == 0 ? format(datum.value, '~g') : ''"}},
        "x2": {"field": "hi"},
        "y": {"field": "ulo", "type": "quantitative", "scale": {"domain": [0, 2.06], "nice": false, "zero": false},
              "axis": {"title": "Data / SM", "tickCount": 1000, "offset": -6, "tickSize": 6, "labelPadding": 4, "values": [0,0.2,0.4,0.6,0.8,1,1.2,1.4,1.6,1.8,2],
                       "labelExpr": "datum.value == 0 || datum.value == 1 || datum.value == 2 ? format(datum.value, 'd') : ''"}},
        "y2": {"field": "uhi"}
      }},
     {"data": {"values": [{}]}, "mark": {"type": "rule", "color": "black", "strokeWidth": 1.5}, "encoding": {"y": {"datum": 1}}},
     {"mark": {"type": "rule", "color": "black", "strokeWidth": 1.2, "clip": true},
      "encoding": {"x": {"field": "c", "type": "quantitative"}, "y": {"field": "rlo", "type": "quantitative"}, "y2": {"field": "rhi"}}},
     {"mark": {"type": "point", "filled": true, "color": "black", "size": 36, "opacity": 1},
      "encoding": {"x": {"field": "c", "type": "quantitative"}, "y": {"field": "r", "type": "quantitative"}}},
     {"data": {"values": [{}]}, "mark": {"type": "text", "fontSize": 14, "align": "left", "baseline": "alphabetic"},
      "encoding": {"x": {"datum": 0.947}, "y": {"datum": -1.0}, "text": {"value": "T"}}},
     {"data": {"values": [{}]}, "mark": {"type": "text", "fontSize": 8, "align": "left", "baseline": "alphabetic"},
      "encoding": {"x": {"datum": 0.969}, "y": {"datum": -1.05}, "text": {"value": "HV"}}}
    ]}
  ]}
 ]}
]
}
